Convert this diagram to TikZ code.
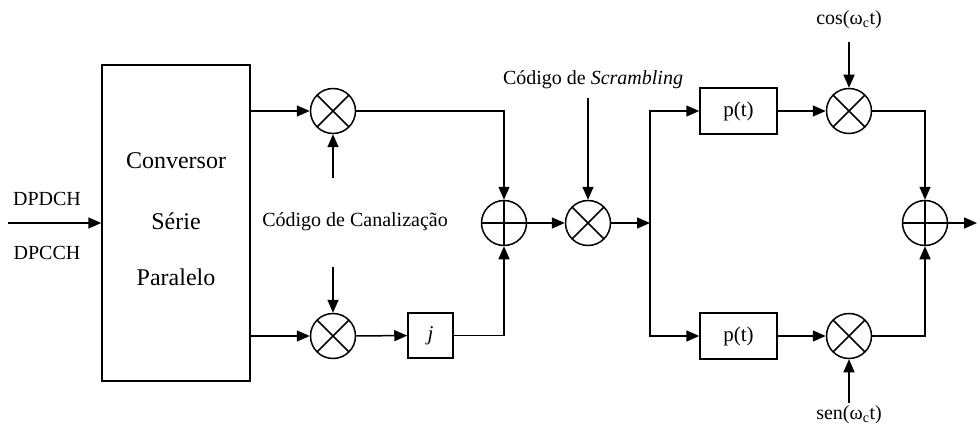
\documentclass[tikz,border=0pt]{standalone}
\usepackage{fontspec}
\setmainfont{Liberation Serif}
\usetikzlibrary{arrows.meta}
\begin{document}
\begin{tikzpicture}[x=1pt,y=-1pt,
  wire/.style={line width=1.5pt},
  arr/.style={wire,-{Triangle[length=13pt,width=11pt]}},
  lbl/.style={inner sep=0pt,font=\fontsize{20}{24}\selectfont},
  big/.style={inner sep=0pt,font=\fontsize{24}{28}\selectfont},
  mixer/.style={circle,draw,line width=1.5pt,minimum size=45pt,inner sep=0pt,
    path picture={\draw[line width=1.5pt]
      (path picture bounding box.north west) -- (path picture bounding box.south east)
      (path picture bounding box.north east) -- (path picture bounding box.south west);}},
  summer/.style={circle,draw,line width=1.5pt,minimum size=45pt,inner sep=0pt,
    path picture={\draw[line width=1.5pt]
      (path picture bounding box.north) -- (path picture bounding box.south)
      (path picture bounding box.west) -- (path picture bounding box.east);}},
  blk/.style={draw,line width=1.5pt,inner sep=0pt,font=\fontsize{21}{24}\selectfont},
]
\useasboundingbox (0,0) rectangle (977,433);

% serial-to-parallel converter
\node[draw,line width=1.5pt,minimum width=148pt,minimum height=316pt] (conv) at (176,223) {};
\node[big] (t1) at (176,161) {Conversor};
\node[big] (t2) at (176,221) {Série};
\node[big] (t3) at (176,277) {Paralelo};

% input
\coordinate (in) at (8,223);
\node[lbl] (dpdch) at (47,199) {DPDCH};
\node[lbl] (dpcch) at (47,253) {DPCCH};
\draw[arr] (in) -- (conv.west);

% channelisation
\node[mixer] (m1) at (333,111) {};
\node[mixer] (m2) at (333,336) {};
\coordinate (c1) at (333,178);
\coordinate (c2) at (333,267);
\node[lbl] (canal) at (355,222) {Código de Canalização};
\draw[arr] (conv.east |- m1) -- (m1);
\draw[arr] (conv.east |- m2) -- (m2);
\draw[arr] (c1) -- (m1);
\draw[arr] (c2) -- (m2);

\node[blk,minimum width=45pt,minimum height=45pt] (jb) at (430.5,335.5) {\itshape j};
\draw[arr] (m2) -- (jb);

% I + jQ
\node[summer] (add1) at (504,223) {};
\draw[arr] (m1) -| (add1);
\draw[arr] (jb) -| (add1);

% scrambling
\node[mixer] (m3) at (588,223) {};
\node[lbl] (scr) at (593,80) {Código de \textit{Scrambling}};
\coordinate (s1) at (588,98);
\draw[arr] (add1) -- (m3);
\draw[arr] (s1) -- (m3);

% pulse shaping
\coordinate (br) at (650,223);
\draw[arr] (m3) -- (br);
\node[blk,minimum width=77pt,minimum height=46pt] (p1) at (738.5,111) {p(t)};
\node[blk,minimum width=77pt,minimum height=46pt] (p2) at (738.5,336) {p(t)};
\draw[arr] (br) |- (p1);
\draw[arr] (br) |- (p2);

% modulation
\node[mixer] (m4) at (849,111) {};
\node[mixer] (m5) at (849,336) {};
\draw[arr] (p1) -- (m4);
\draw[arr] (p2) -- (m5);
\node[lbl] (cos) at (849,20) {cos(ω\textsubscript{c}t)};
\node[lbl] (sen) at (849,415) {sen(ω\textsubscript{c}t)};
\coordinate (k1) at (849,42);
\coordinate (k2) at (849,403);
\draw[arr] (k1) -- (m4);
\draw[arr] (k2) -- (m5);

% output
\node[summer] (add2) at (925,223) {};
\draw[arr] (m4) -| (add2);
\draw[arr] (m5) -| (add2);
\coordinate (out) at (977,223);
\draw[arr] (add2) -- (out);
\end{tikzpicture}
\end{document}
